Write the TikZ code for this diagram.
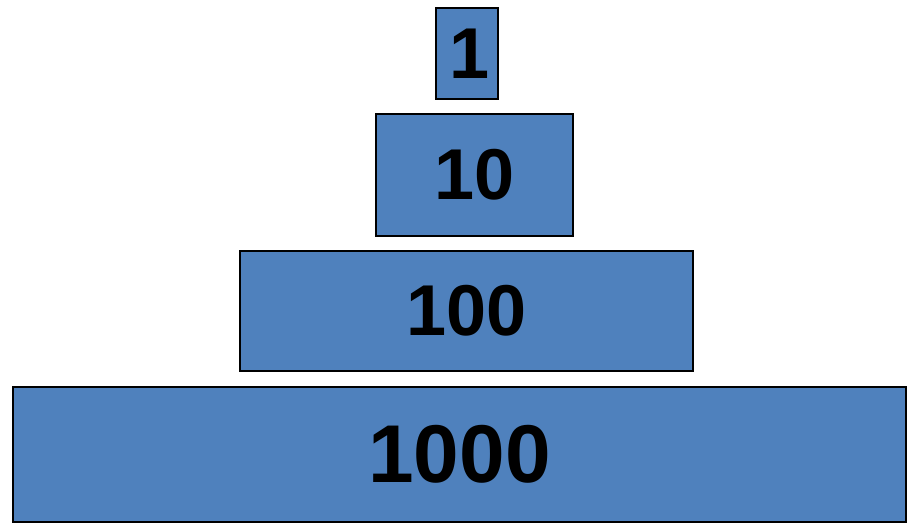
\documentclass[tikz,border=0pt]{standalone}
\usepackage{fontspec}
\setmainfont{Liberation Sans}
\definecolor{tierblue}{HTML}{4F81BD}
\tikzset{
    tier/.style={shape=rectangle,draw=black,fill=tierblue,line width=1.5pt,inner sep=0pt,font=\bfseries}
}
\begin{document}
\begin{tikzpicture}[x=1pt,y=1pt]
    \useasboundingbox (0,0) rectangle (912,-523);
    \node[tier,minimum width=62,minimum height=91,font=\bfseries\fontsize{72}{72}\selectfont] (one) at (467,-53.5) {\hspace{6pt}1};
    \node[tier,minimum width=197,minimum height=122,font=\bfseries\fontsize{72}{72}\selectfont] (ten) at (474.5,-175) {10};
    \node[tier,minimum width=453,minimum height=120,font=\bfseries\fontsize{72}{72}\selectfont] (hundred) at (466.5,-311) {100};
    \node[tier,minimum width=893,minimum height=135,font=\bfseries\fontsize{82}{82}\selectfont] (thousand) at (459.5,-454.5) {1000};
\end{tikzpicture}
\end{document}
